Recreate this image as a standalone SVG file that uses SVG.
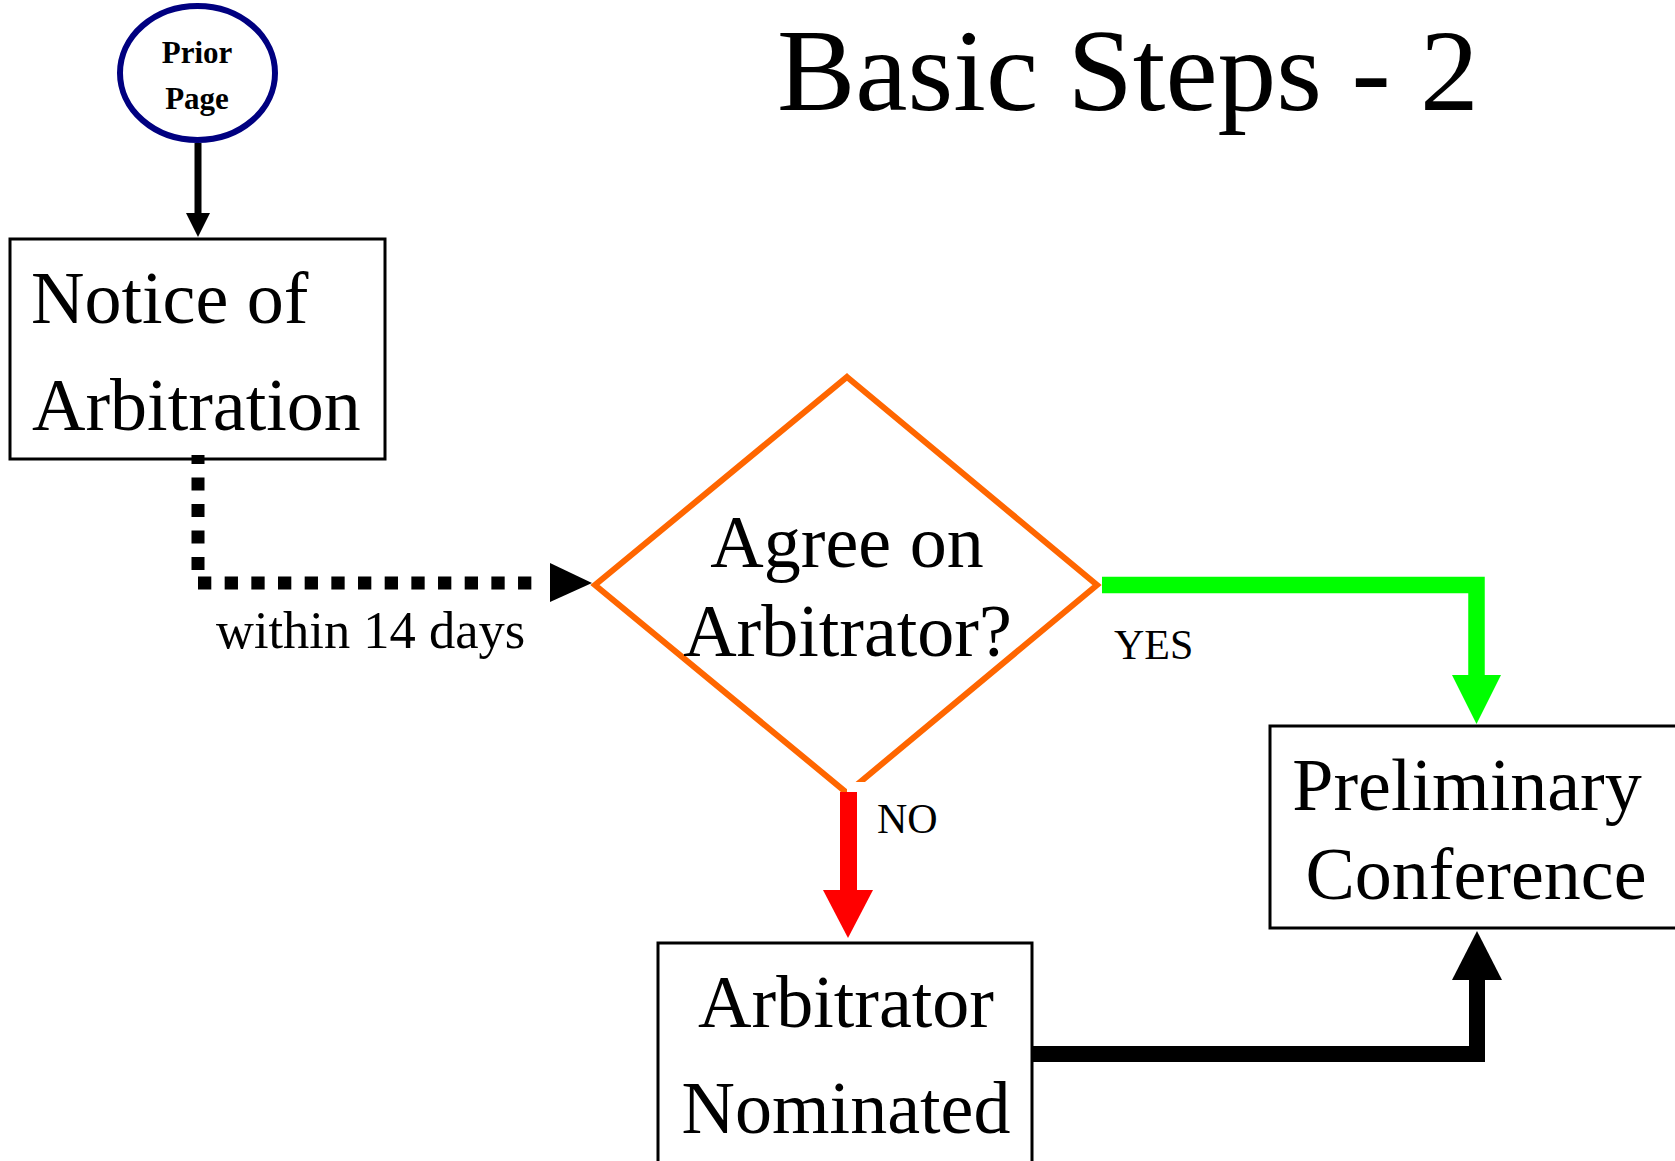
<svg xmlns="http://www.w3.org/2000/svg" width="1675" height="1161" viewBox="0 0 1675 1161">
<style>
  text { font-family: "Liberation Serif", "Times New Roman", serif; fill: #000; }
  .big { font-size: 74px; }
  .lbl { font-size: 42px; }
  .box { fill: #fff; stroke: #000; stroke-width: 3; }
  .mid { text-anchor: middle; }
</style>
<rect width="1675" height="1161" fill="#fff"/>
<text x="777" y="110" font-size="117.5">Basic Steps - 2</text>

<g id="prior-page">
  <ellipse cx="197.5" cy="73" rx="77.5" ry="67" fill="#fff" stroke="#000080" stroke-width="6"/>
  <text x="197" y="63" font-size="31" font-weight="bold" class="mid">Prior</text>
  <text x="197" y="109" font-size="31" font-weight="bold" class="mid">Page</text>
</g>

<g id="notice">
  <rect class="box" x="10" y="239" width="375" height="220"/>
  <text class="big" x="31" y="323">Notice of</text>
  <text class="big" x="32" y="430">Arbitration</text>
</g>

<g id="agree">
  <polygon points="847,377 1097,585 847,793 595,585" fill="#fff" stroke="#FF6600" stroke-width="6" stroke-linejoin="miter"/>
  <rect x="847" y="782" width="22" height="10" fill="#fff"/>
  <text class="big mid" x="847" y="567">Agree on</text>
  <text class="big mid" x="847.5" y="656">Arbitrator?</text>
</g>

<g id="nominated">
  <rect class="box" x="658" y="943" width="374" height="240"/>
  <text class="big mid" x="846" y="1027">Arbitrator</text>
  <text class="big mid" x="846" y="1133">Nominated</text>
</g>

<g id="preliminary">
  <rect class="box" x="1270" y="726" width="420" height="202"/>
  <text class="big mid" x="1467" y="810">Preliminary</text>
  <text class="big mid" x="1476" y="899">Conference</text>
</g>

<g id="connectors">
  <line x1="198" y1="143" x2="198" y2="214" stroke="#000" stroke-width="7"/>
  <polygon points="186,213 210,213 198,237" fill="#000"/>

  <line x1="198" y1="570" x2="198" y2="455" stroke="#000" stroke-width="13" stroke-dasharray="13 13.5"/>
  <line x1="198" y1="583" x2="532" y2="583" stroke="#000" stroke-width="13" stroke-dasharray="13.3 13.37"/>
  <polygon points="550,563 592,583 550,602" fill="#000"/>
  <text x="216" y="648" font-size="52.5">within 14 days</text>

  <path d="M1102,585 H1476.5 V676" fill="none" stroke="#00FF00" stroke-width="16.5" stroke-linejoin="miter"/>
  <polygon points="1452,675 1501,675 1476.5,724" fill="#00FF00"/>
  <text class="lbl" x="1114" y="659">YES</text>

  <line x1="848.5" y1="792" x2="848.5" y2="891" stroke="#FF0000" stroke-width="17"/>
  <polygon points="823,890 873,890 848,938" fill="#FF0000"/>
  <text class="lbl" x="877" y="833">NO</text>

  <path d="M1033,1054 H1477 V979" fill="none" stroke="#000" stroke-width="16" stroke-linejoin="miter"/>
  <polygon points="1452,980 1502,980 1477,931" fill="#000"/>
</g>
</svg>
